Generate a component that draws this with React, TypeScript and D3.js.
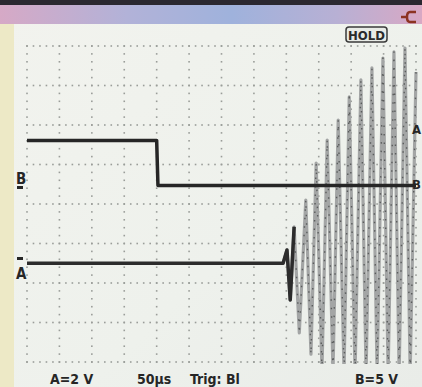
import React from "react";
import * as d3 from "d3";

// time axis, µs (50 µs / div, 12 div)
const timeTicks = [0, 50, 100, 150, 200, 250, 300, 350, 400, 450, 500, 550, 600];
const divRows = [0, 1, 2, 3, 4, 5, 6, 7, 8];

// channel B (5 V/div) - the step
const bTime = [0, 200, 201, 202, 600];
const bVolt = [5.9, 5.9, 3.0, 0.2, 0.2];

// channel A (2 V/div) - flat, then growing ringing
const aTime = [0, 395, 401, 406, 412, 420, 430, 438, 446, 455, 463, 472, 480, 489, 497, 506, 515, 523, 532, 540, 549, 557, 566, 574, 583, 591, 600];
const aVolt = [0, 0, 0.67, -1.86, 1.84, -3.53, 3.2, -4.6, 5.07, -5.4, 6.24, -5.5, 7.25, -5.5, 8.42, -5.6, 9.28, -5.6, 9.89, -5.6, 10.39, -5.6, 10.7, -5.6, 10.9, -5.6, 9.68];

const bottomLabels = [
  { text: "A=2 V", x: 50 },
  { text: "50µs", x: 137 },
  { text: "Trig: Bl", x: 190 },
  { text: "B=5 V", x: 355 },
];

const W = 422;
const H = 387;

const App = () => {
  const x = d3.scaleLinear().domain([0, 600]).range([27, 416]);
  const yDiv = d3.scaleLinear().domain([0, 8]).range([46, 362]);
  const yA = d3.scaleLinear().domain([-5, 11]).range([362, 46]);
  const yB = d3.scaleLinear().domain([-22.15, 17.85]).range([362, 46]);

  const aPts = aTime.map((t, i) => [t, aVolt[i]] as [number, number]);
  const bPts = bTime.map((t, i) => [t, bVolt[i]] as [number, number]);

  const lineA = d3.line<[number, number]>().x((d) => x(d[0])).y((d) => yA(d[1]));
  const lineB = d3.line<[number, number]>().x((d) => x(d[0])).y((d) => yB(d[1]));

  // small grid dots: 5 per division
  const rowDots: { cx: number; cy: number }[] = [];
  divRows.forEach((r) => {
    for (let t = 0; t <= 600; t += 10) rowDots.push({ cx: x(t), cy: yDiv(r) });
  });
  const colDots: { cx: number; cy: number }[] = [];
  timeTicks.forEach((t) => {
    for (let d = 0; d <= 8.01; d += 0.2) colDots.push({ cx: x(t), cy: yDiv(d) });
  });

  const font = "'DejaVu Sans Condensed', 'DejaVu Sans', sans-serif";

  return (
    <svg width={W} height={H} style={{ position: "absolute", left: 0, top: 0 }}>
      <defs>
        <linearGradient id="bar" x1="0" x2="1" y1="0" y2="0">
          <stop offset="0" stopColor="#d6a9c6" />
          <stop offset="0.3" stopColor="#b2b2d8" />
          <stop offset="0.55" stopColor="#9fb2dc" />
          <stop offset="0.8" stopColor="#b8b0d4" />
          <stop offset="1" stopColor="#d8a8c4" />
        </linearGradient>
        <linearGradient id="scr" x1="0" x2="1" y1="0" y2="1">
          <stop offset="0" stopColor="#f2f3ee" />
          <stop offset="0.6" stopColor="#eef1ec" />
          <stop offset="1" stopColor="#e9ece8" />
        </linearGradient>
        <clipPath id="screen">
          <rect x={14} y={44} width={W - 14} height={320} />
        </clipPath>
      </defs>

      <rect x={0} y={0} width={W} height={H} fill="url(#scr)" />
      <rect x={0} y={24} width={14} height={H - 24} fill="#ede9c6" />
      <rect x={0} y={0} width={W} height={5} fill="#2b2830" />
      <rect x={0} y={5} width={W} height={19} fill="url(#bar)" />
      {/* connector icon */}
      <g stroke="#8c3322" strokeWidth={2.5} fill="none">
        <line x1={401} y1={17} x2={407} y2={17} />
        <path d="M416,12 L410,12 Q407,12 407,17 Q407,22 410,22 L416,22" />
      </g>

      {/* HOLD */}
      <rect x={346} y={27} width={41} height={15} rx={3} fill="#e8ebe6" stroke="#3a3a3a" strokeWidth={1.5} />
      <text x={366.5} y={39.5} textAnchor="middle" fontFamily={font} fontWeight="bold" fontSize={13} fill="#2a2a2a">
        HOLD
      </text>

      {/* grid */}
      <g fill="#9a9d99">
        {rowDots.map((d, i) => (
          <rect key={"r" + i} x={d.cx - 0.8} y={d.cy - 0.8} width={1.6} height={1.6} />
        ))}
        {colDots.map((d, i) => (
          <rect key={"c" + i} x={d.cx - 0.8} y={d.cy - 0.8} width={1.6} height={1.6} />
        ))}
      </g>

      <g clipPath="url(#screen)" fill="none" strokeLinejoin="round">
        {/* A trace */}
        <path d={lineA(aPts.filter((d) => d[0] >= 395)) || ""} stroke="#a3a5a5" strokeWidth={3.2} />
        <path d={lineA(aPts.filter((d) => d[0] >= 395)) || ""} stroke="#5a5c5c" strokeWidth={1.4} strokeDasharray="1.5 7" />
        <path d={lineA(aPts.filter((d) => d[0] <= 412)) || ""} stroke="#2c2c2c" strokeWidth={3.5} />
        {/* B trace */}
        <path d={lineB(bPts) || ""} stroke="#262626" strokeWidth={3.5} />
      </g>

      {/* channel markers */}
      <g fontFamily={font} fontWeight="bold" fill="#262626">
        <text x={16} y={184} fontSize={15}>B</text>
        <rect x={17} y={186} width={6} height={3} />
        <text x={16} y={279} fontSize={15}>A</text>
        <rect x={17} y={257} width={6} height={3} />
        <text x={412} y={134} fontSize={13}>A</text>
        <text x={412} y={189} fontSize={13}>B</text>
      </g>

      {/* readouts */}
      <g fontFamily={font} fontWeight="bold" fontSize={14} fill="#262626">
        {bottomLabels.map((l) => (
          <text key={l.text} x={l.x} y={384}>
            {l.text}
          </text>
        ))}
      </g>
    </svg>
  );
};

export default App;
